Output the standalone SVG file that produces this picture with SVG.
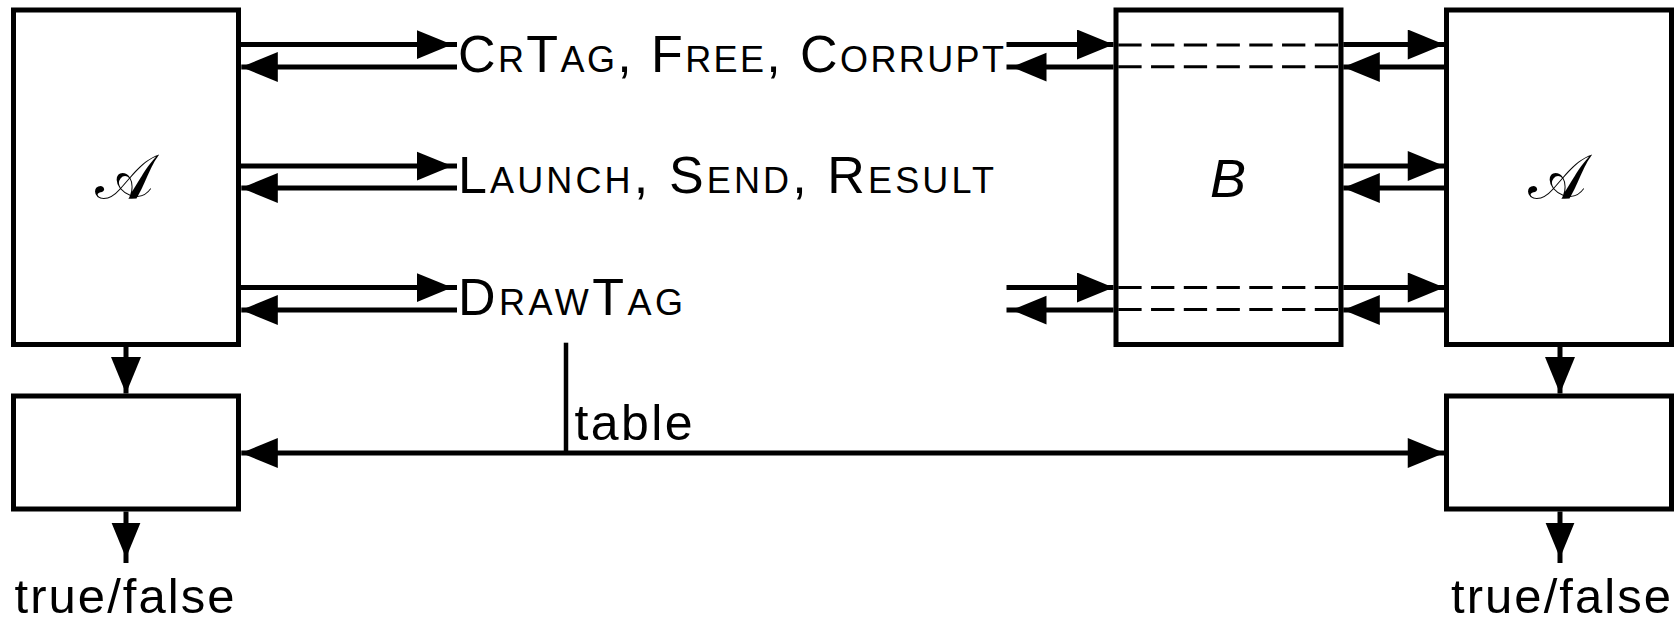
<svg xmlns="http://www.w3.org/2000/svg" width="1679" height="620" viewBox="0 0 1679 620">
<style>
.box{fill:#fff;stroke:#000;stroke-width:5}
.ln{fill:none;stroke:#000;stroke-width:5}
.dash{fill:none;stroke:#000;stroke-width:3;stroke-dasharray:23.3 9.45}
.sc{font-family:"Liberation Sans",Arial,sans-serif;font-size:52px;font-variant:small-caps;fill:#000}
.lab{font-family:"Liberation Sans",Arial,sans-serif;fill:#000}
.cal{font-family:"DejaVu Serif","DejaVu Sans","Liberation Serif",serif;font-size:62px;fill:#000}
</style>
<defs>
<marker id="a" markerUnits="userSpaceOnUse" markerWidth="40" markerHeight="30" viewBox="0 0 28 23" refX="28" refY="11.5" orient="auto-start-reverse"><path d="M0,0 L28,11.5 L0,23 Z" fill="#000"/></marker>
<marker id="ai" markerUnits="userSpaceOnUse" markerWidth="40" markerHeight="30" viewBox="0 0 32 23" refX="32" refY="11.5" orient="auto"><path d="M0,0 L28,11.5 L0,23 Z" fill="#000"/></marker>
</defs>

<g id="nodeA1">
<rect class="box" x="13.5" y="10" width="225" height="334.5"/>
<text class="cal" x="124" y="198" text-anchor="middle">𝒜</text>
</g>
<g id="nodeB">
<rect class="box" x="1116" y="10" width="225" height="334.5"/>
<text class="lab" x="1228" y="197" font-size="54" font-style="italic" text-anchor="middle">B</text>
</g>
<g id="nodeA2">
<rect class="box" x="1446.5" y="10" width="225" height="334.5"/>
<text class="cal" x="1557" y="198" text-anchor="middle">𝒜</text>
</g>
<g id="nodeV1">
<rect class="box" x="13.5" y="396" width="225" height="113"/>
</g>
<g id="nodeV2">
<rect class="box" x="1446.5" y="396" width="225" height="113"/>
</g>

<g id="connectors">
<path class="ln" d="M239,44.5 H457" marker-end="url(#ai)"/>
<path class="ln" d="M457,67 H241.3" marker-end="url(#a)"/>
<path class="ln" d="M239,166 H457" marker-end="url(#ai)"/>
<path class="ln" d="M457,188 H241.3" marker-end="url(#a)"/>
<path class="ln" d="M239,287.5 H457" marker-end="url(#ai)"/>
<path class="ln" d="M457,310 H241.3" marker-end="url(#a)"/>
<path class="ln" d="M1006.5,44.5 H1113.5" marker-end="url(#a)"/>
<path class="ln" d="M1113.5,67 H1006.5" marker-end="url(#ai)"/>
<path class="ln" d="M1006.5,287.5 H1113.5" marker-end="url(#a)"/>
<path class="ln" d="M1113.5,310 H1006.5" marker-end="url(#ai)"/>
<path class="dash" d="M1118.3,45 H1338.3"/>
<path class="dash" d="M1118.3,66.7 H1338.3"/>
<path class="dash" d="M1118.3,287.5 H1338.3"/>
<path class="dash" d="M1118.3,309.5 H1338.3"/>
<path class="ln" d="M1343.3,44.5 H1444.3" marker-end="url(#a)"/>
<path class="ln" d="M1444.3,67 H1343.3" marker-end="url(#a)"/>
<path class="ln" d="M1343.3,166 H1444.3" marker-end="url(#a)"/>
<path class="ln" d="M1444.3,188 H1343.3" marker-end="url(#a)"/>
<path class="ln" d="M1343.3,287.5 H1444.3" marker-end="url(#a)"/>
<path class="ln" d="M1444.3,310 H1343.3" marker-end="url(#a)"/>
<path class="ln" d="M126,347 V393.5" marker-end="url(#a)"/>
<path class="ln" d="M126,511.5 V563" marker-end="url(#ai)"/>
<path class="ln" d="M1560,347 V393.5" marker-end="url(#a)"/>
<path class="ln" d="M1560,511.5 V563" marker-end="url(#ai)"/>
<path class="ln" d="M241.3,453 H1444.3" marker-start="url(#a)" marker-end="url(#a)"/>
<path class="ln" style="stroke-width:4.5" d="M566,342.7 V453"/>
</g>

<g id="labels">
<text class="sc" x="458" y="71.5" textLength="546" lengthAdjust="spacing">CrTag, Free, Corrupt</text>
<text class="sc" x="458" y="192.5" textLength="536" lengthAdjust="spacing">Launch, Send, Result</text>
<text class="sc" x="458" y="314.5" textLength="225" lengthAdjust="spacing">DrawTag</text>
<text class="lab" x="574.5" y="440" font-size="50" textLength="118" lengthAdjust="spacing">table</text>
<text class="lab" x="14.5" y="612.5" font-size="49" textLength="220" lengthAdjust="spacing">true/false</text>
<text class="lab" x="1451" y="612.5" font-size="49" textLength="220" lengthAdjust="spacing">true/false</text>
</g>
</svg>
